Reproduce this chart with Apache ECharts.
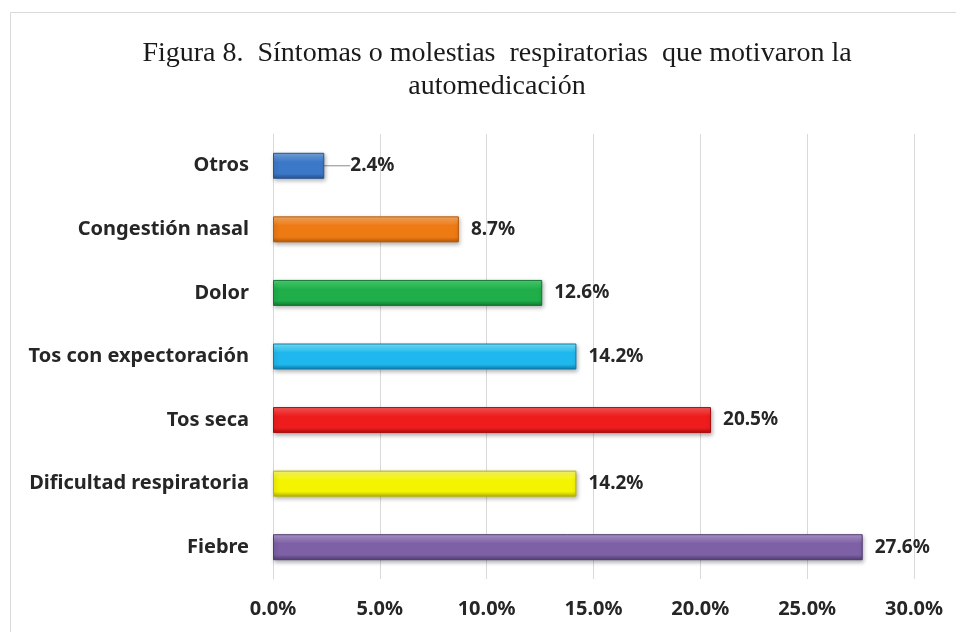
<!DOCTYPE html>
<html>
<head>
<meta charset="utf-8">
<script src="https://cdn.jsdelivr.net/npm/echarts@6/dist/echarts.min.js"></script>
<style>
  html, body { margin: 0; padding: 0; background: #fff; }
  #chart { width: 956px; height: 632px; }
</style>
</head>
<body>
<div id="chart"></div>
<script>
// datos (de abajo hacia arriba, como los dibuja el eje de categorías)
const categories = [
  'Fiebre',
  'Dificultad respiratoria',
  'Tos seca',
  'Tos con expectoración',
  'Dolor',
  'Congestión nasal',
  'Otros',
]
const values = [27.6, 14.2, 20.5, 14.2, 12.6, 8.7, 2.4]
const xTicks = [0, 5, 10, 15, 20, 25, 30]

// colores de cada barra: claro / base / oscuro
const barColors = [
  ['#b39ad0', '#7d60a5', '#4f3a70'],
  ['#ffff70', '#f4f400', '#b5b500'],
  ['#ff5a5a', '#ee1c1c', '#a80d0d'],
  ['#7ae8ff', '#1fb8ee', '#0e7aa8'],
  ['#4ad673', '#1fae4a', '#127832'],
  ['#fbb066', '#ee7a14', '#b35708'],
  ['#78a8e0', '#3c78c8', '#29538f'],
]

const chart = echarts.init(document.getElementById('chart'))

const seriesData = values.map((v, i) => {
  const c = barColors[i]
  const item = {
    value: v,
    itemStyle: {
      color: new echarts.graphic.LinearGradient(0, 0, 0, 1, [
        { offset: 0, color: c[0] },
        { offset: 0.35, color: c[1] },
        { offset: 0.8, color: c[1] },
        { offset: 1, color: c[2] },
      ]),
      borderColor: c[2],
    },
  }
  // Otros lleva la etiqueta desplazada con línea guía
  if (categories[i] === 'Otros') item.labelLine = { show: true }
  return item
})

chart.setOption({
  backgroundColor: '#fff',
  animation: false,
  graphic: [
    {
      type: 'rect',
      shape: { x: 10.5, y: 12.5, width: 980, height: 660 },
      style: { fill: 'none', stroke: '#d9d9d9', lineWidth: 1 },
      silent: true,
    },
  ],
  title: {
    text: 'Figura 8.  Síntomas o molestias  respiratorias  que motivaron la\nautomedicación',
    left: 492,
    top: 32,
    textAlign: 'center',
    textStyle: {
      fontFamily: 'Liberation Serif',
      fontWeight: 'normal',
      fontSize: 28,
      lineHeight: 33,
      color: '#1a1a1a',
    },
  },
  grid: { left: 273, right: 42, top: 134, bottom: 53 },
  xAxis: {
    type: 'value',
    min: xTicks[0],
    max: xTicks[xTicks.length - 1],
    interval: 5,
    axisLine: { show: false },
    axisTick: { show: false },
    splitLine: { lineStyle: { color: '#d9d9d9', width: 1 } },
    axisLabel: {
      margin: 20,
      formatter: (v) => v.toFixed(1) + '%',
      fontFamily: 'Noto Sans',
      fontWeight: 'bold',
      fontSize: 20,
      color: '#262626',
    },
  },
  yAxis: {
    type: 'category',
    data: categories,
    axisLine: { show: true, lineStyle: { color: '#d9d9d9' } },
    axisTick: { show: false },
    axisLabel: {
      margin: 24,
      fontFamily: 'Noto Sans',
      fontWeight: 'bold',
      fontSize: 20,
      color: '#262626',
    },
  },
  series: [
    {
      type: 'bar',
      data: seriesData,
      barWidth: 26,
      itemStyle: {
        borderWidth: 1,
        shadowBlur: 4,
        shadowOffsetX: 1,
        shadowOffsetY: 2,
        shadowColor: 'rgba(0,0,0,0.3)',
      },
      label: {
        show: true,
        position: 'right',
        distance: 12,
        formatter: (p) => p.value.toFixed(1) + '%',
        fontFamily: 'Noto Sans',
        fontWeight: 'bold',
        fontSize: 19,
        color: '#262626',
      },
      labelLine: { show: false, lineStyle: { color: '#8c8c8c', width: 1 } },
      labelLayout: (p) => (categories[p.dataIndex] === 'Otros' ? { dx: 14 } : {}),
    },
  ],
})
</script>
</body>
</html>
